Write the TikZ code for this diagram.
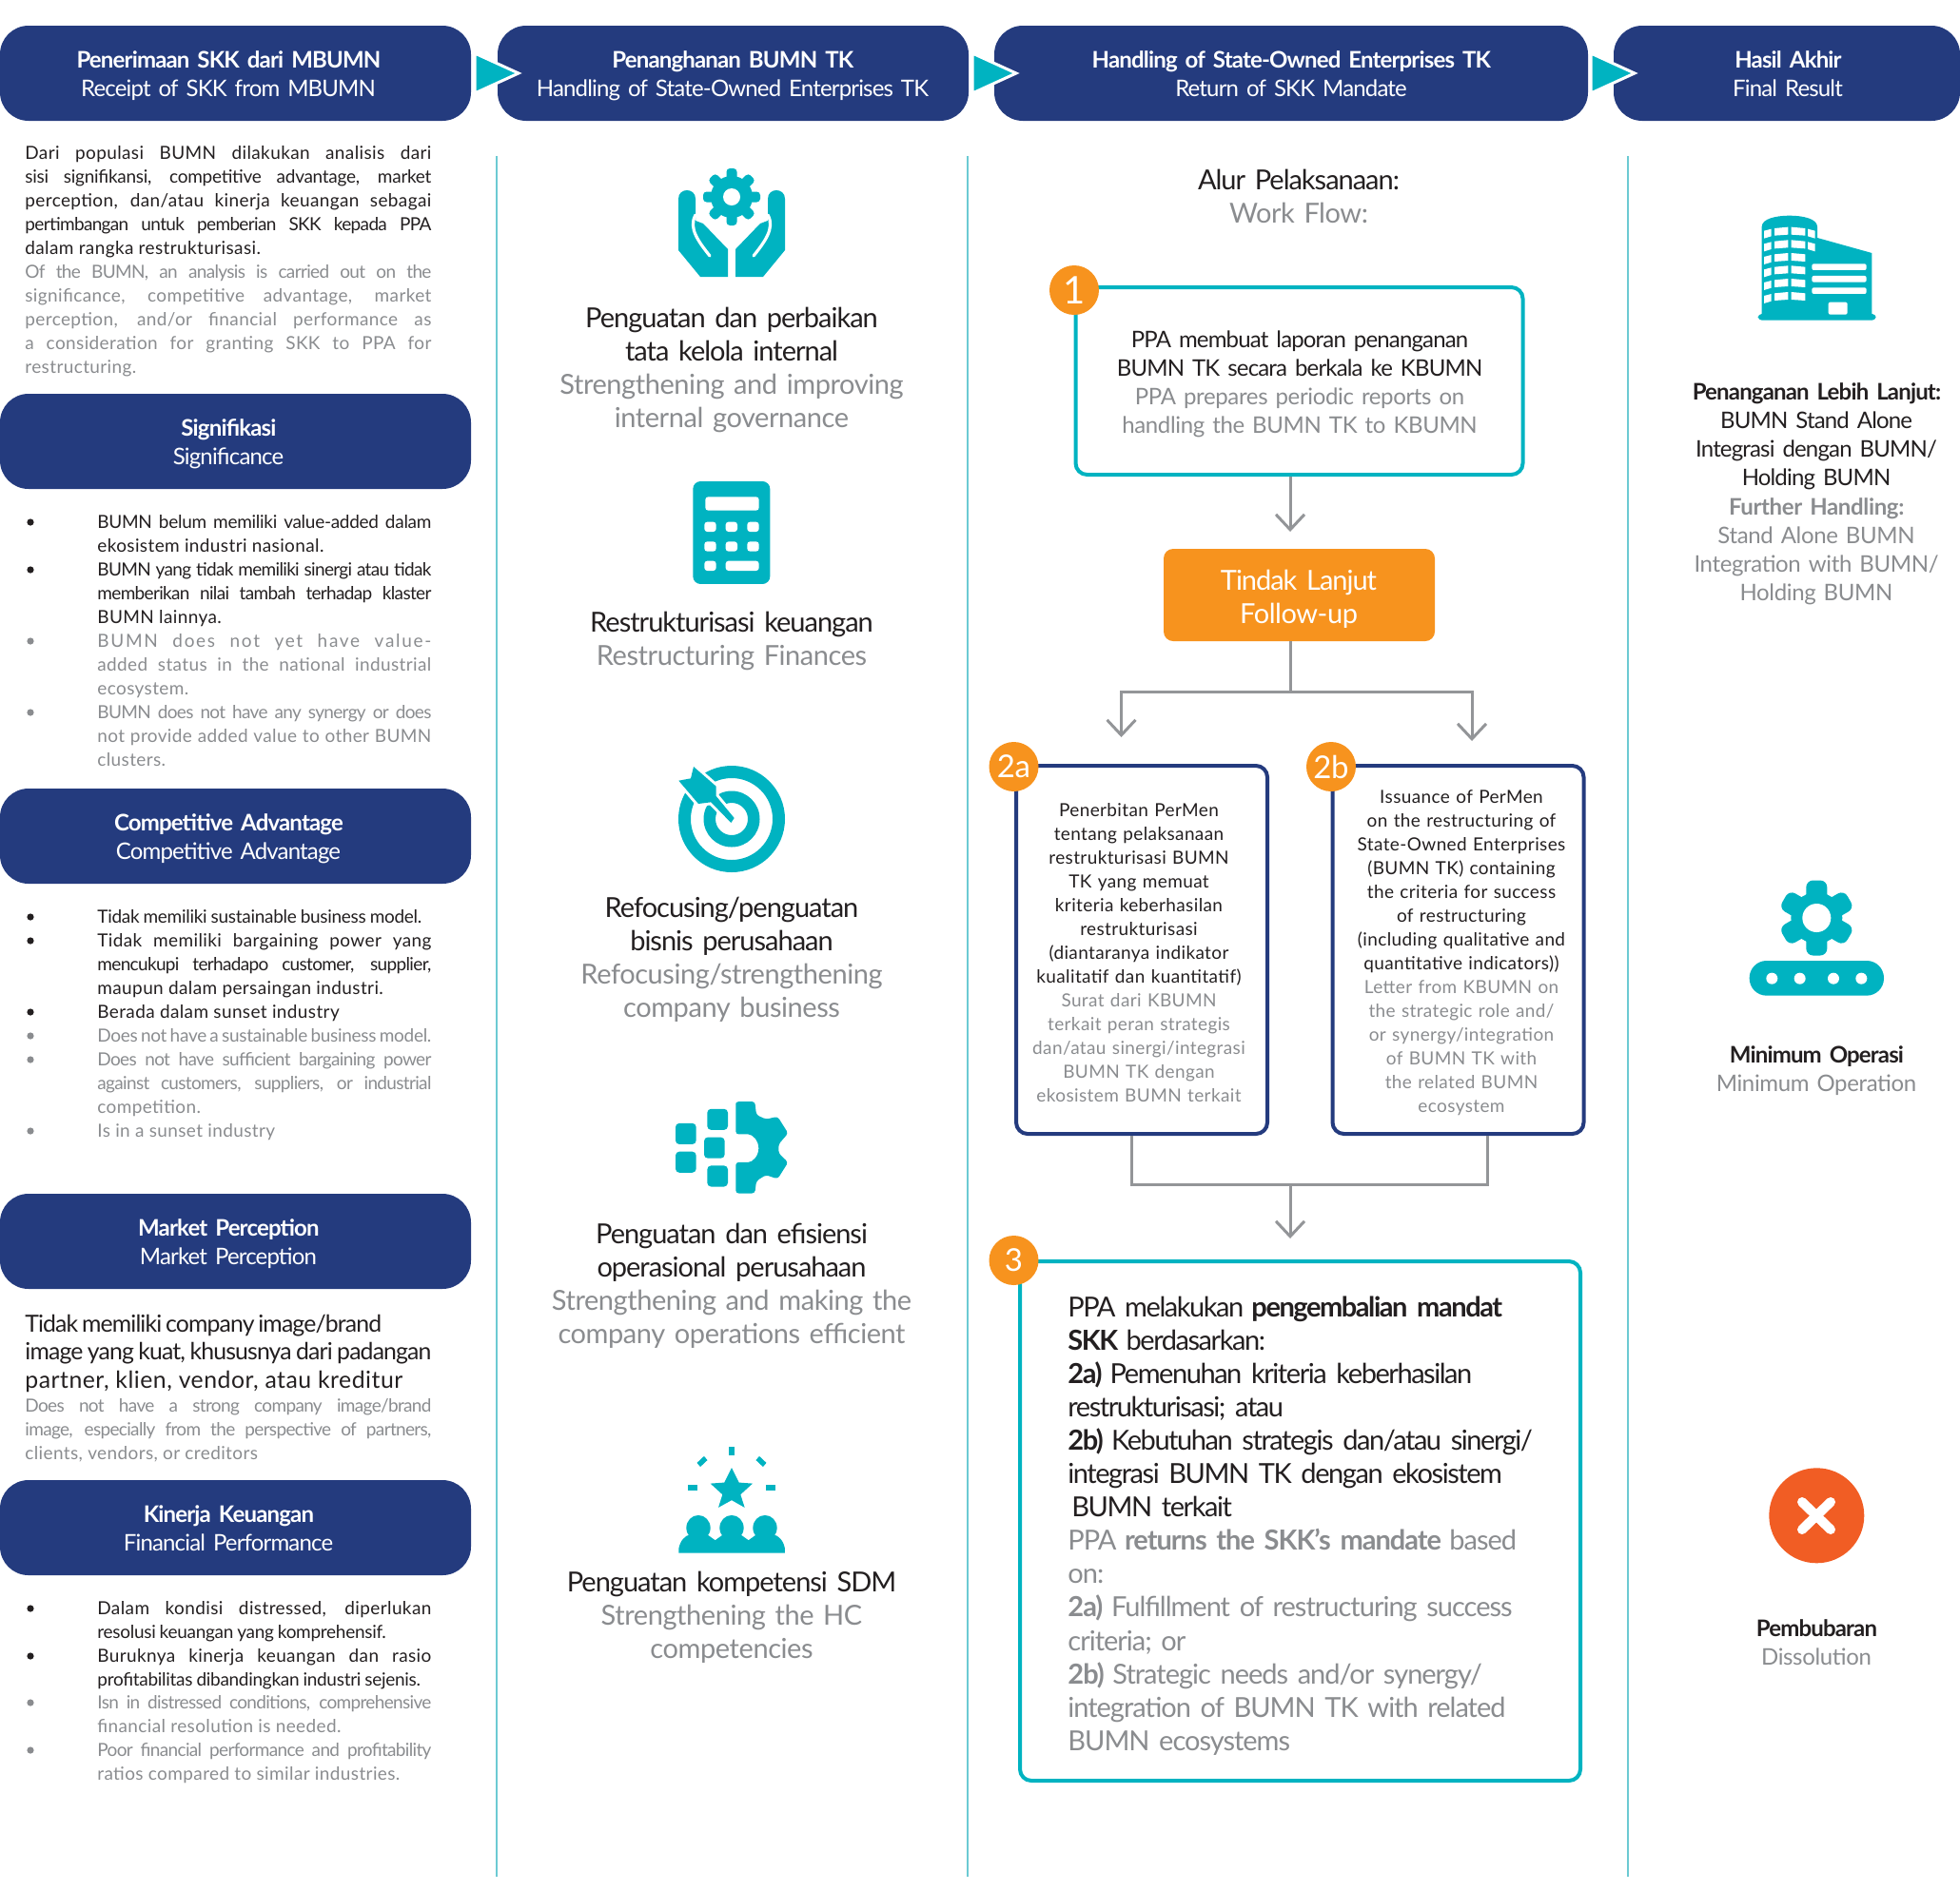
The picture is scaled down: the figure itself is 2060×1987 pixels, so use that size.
\documentclass[tikz,border=0pt]{standalone}
\usepackage{fontspec}
\setmainfont[LetterSpace=-1.5,WordSpace=0.85]{Lato}
\newfontfamily\tight[LetterSpace=-3.5,WordSpace=0.7]{Lato}
\newfontfamily\tighter[LetterSpace=-5,WordSpace=0.7]{Lato}
\newfontfamily\wide[LetterSpace=2]{Lato}
\newfontfamily\wider[LetterSpace=9]{Lato}
\usetikzlibrary{arrows.meta}
\definecolor{navy}{HTML}{243B7E}
\definecolor{teal}{HTML}{00B3C1}
\definecolor{rule}{HTML}{6CCAD3}
\definecolor{amber}{HTML}{F7931E}
\definecolor{redorange}{HTML}{F15D24}
\definecolor{ink}{HTML}{231F20}
\definecolor{mute}{HTML}{8A8C8F}
\definecolor{arrowgrey}{HTML}{939598}
\def\mute{\color{mute}}
\def\grey{\color{mute}\rmfamily}
\tikzset{
	banner/.style={fill=navy, rounded corners=15pt, minimum height=50pt, inner sep=0pt, minimum width=#1*0.5pt},
	bannertext/.style={anchor=base, inner sep=0pt, text=white, text width=240pt, align=center,
		font=\fontsize{12}{15}\selectfont},
	bodytext/.style={anchor=base west, inner sep=0pt, text=ink, text width=213.5pt, align=justify,
		font=\wide\fontsize{9.5}{12.5}\selectfont},
	itemtext/.style={anchor=base west, inner sep=0pt, text=ink, text width=175.5pt, align=justify,
		font=\wide\fontsize{9.5}{12.5}\selectfont},
	itemdot/.style={circle, fill=#1, inner sep=0pt, minimum size=3.6pt},
	midtext/.style={anchor=base, inner sep=0pt, text=ink, text width=210pt, align=center, yshift=-0.6pt,
		font=\tight\fontsize{14.5}{17.55}\selectfont},
	sidetext/.style={anchor=base, inner sep=0pt, text=ink, text width=150pt, align=center, yshift=-0.6pt,
		font=\tight\fontsize{12}{15.1}\selectfont},
	boxtext/.style={anchor=base, inner sep=0pt, text=ink, text width=130pt, align=center,
		font=\wide\fontsize{9.5}{12.5}\selectfont},
	stepbox/.style={draw=#1, line width=2pt, rounded corners=6pt, inner sep=0pt},
	badge/.style={circle, fill=amber, text=white, inner sep=0pt, minimum size=26pt},
	flowline/.style={draw=arrowgrey, line width=1.5pt, -{Straight Barb[length=8pt,width=15pt]}},
	linkline/.style={draw=arrowgrey, line width=1.5pt},
	colrule/.style={draw=rule, line width=1pt},
	chevron/.style={fill=teal, draw=white, line width=1.5pt},
}
% cx, cy, tip radius, body radius, tooth half width, step, hole radius
\def\GearIcon#1#2#3#4#5#6#7{%
	\foreach \a in {0,#6,...,179}
	\fill[teal, rounded corners=#5*0.33pt, rotate around={\a:(#1,#2)}] ({#1-#5},{#2-#3}) rectangle ({#1+#5},{#2+#3});
	\fill[teal] (#1,#2) circle (#4);
	\fill[white] (#1,#2) circle (#7);
}
\def\Banner#1#2#3#4#5#6#7{%
	\node[banner=#4] (#1) at (#2,#3) {};
	\node[bannertext] (#1text) at (#5,#3-6) {\textbf{\tight #6}\\{\tight #7}};
}
\def\Item#1#2#3{%
	\node[itemdot=#2] (dot#1) at (32,#1-5) {};
	\node[itemtext] (item#1) at (102,#1+1) {\color{#2}#3};
}
\def\DartPath{(729,806) -- (752.7,826.7) -- (752.7,837) -- (771.7,860) -- (768.3,865)
	-- (747.3,843.3) -- (734,845) -- (713.3,820.7) -- (726,818.3) -- cycle}
\begin{document}
\begin{tikzpicture}[x=0.5pt,y=-0.5pt]
\useasboundingbox (0,0) rectangle (2060,1987);
% column rules
\foreach \x in {522,1017,1711}
\draw[colrule] (\x,164) -- (\x,1973);

\Banner{recv}{247.5}{77}{495}{240}{Penerimaan SKK dari MBUMN}{Receipt of SKK from MBUMN}
\Banner{hand}{770.5}{77}{495}{770}{Penanghanan BUMN TK}{Handling of State-Owned Enterprises TK}
\Banner{soe}{1357}{77}{624}{1357}{Handling of State-Owned Enterprises TK}{Return of SKK Mandate}
\Banner{final}{1878}{77}{364}{1879}{Hasil Akhir}{Final Result}
\foreach \x in {499,1022,1672}
\filldraw[chevron] (\x,56) -- (\x+46,77) -- (\x,98) -- cycle;

% left column
\node[bodytext] (intro) at (26,167) {Dari populasi BUMN dilakukan analisis dari\linebreak
{\rmfamily sisi signifikansi, competitive advantage, market}\linebreak
perception, dan/atau kinerja keuangan sebagai\linebreak
{\tight pertimbangan untuk pemberian SKK kepada PPA}\linebreak
dalam rangka restrukturisasi.\\
\mute{\tight Of the BUMN, an analysis is carried out on the}\linebreak
significance, competitive advantage, market\linebreak
perception, and/or financial performance as\linebreak
a consideration for granting SKK to PPA for\linebreak
restructuring.};

\Banner{sig}{247.5}{464}{495}{240}{Signifikasi}{Significance}
\Item{554}{ink}{{\rmfamily BUMN belum memiliki value-added dalam}\linebreak ekosistem industri nasional.}
\Item{604}{ink}{{\tight BUMN yang tidak memiliki sinergi atau tidak}\linebreak {\tight memberikan nilai tambah terhadap klaster}\linebreak BUMN lainnya.}
\Item{679}{mute}{{\wider BUMN does not yet have value-}\linebreak added status in the national industrial\linebreak ecosystem.}
\Item{754}{mute}{{\tight BUMN does not have any synergy or does}\linebreak not provide added value to other BUMN\linebreak clusters.}

\Banner{comp}{247.5}{879}{495}{240}{Competitive Advantage}{Competitive Advantage}
\Item{969}{ink}{{\rmfamily Tidak memiliki sustainable business model.}}
\Item{994}{ink}{Tidak memiliki bargaining power yang\linebreak {\tight mencukupi terhadapo customer, supplier,}\linebreak maupun dalam persaingan industri.}
\Item{1069}{ink}{Berada dalam sunset industry}
\Item{1094}{mute}{{\rmfamily Does not have a sustainable business model.}}
\Item{1119}{mute}{{\tight Does not have sufficient bargaining power}\linebreak {\tight against customers, suppliers, or industrial}\linebreak competition.}
\Item{1194}{mute}{Is in a sunset industry}

\Banner{mark}{247.5}{1305}{495}{240}{Market Perception}{Market Perception}
\node[bodytext, font=\rmfamily\fontsize{12.4}{14.8}\selectfont] (marketid) at (26,1400) {{\tight Tidak memiliki company image/brand}\\
{\tight image yang kuat, khususnya dari padangan}\linebreak
{\wide partner, klien, vendor, atau kreditur}};
\node[bodytext, text=mute] (marketen) at (26,1484) {{\tight Does not have a strong company image/brand}\linebreak
{\tight image, especially from the perspective of partners,}\linebreak
clients, vendors, or creditors};

\Banner{perf}{247.5}{1606}{495}{240}{Kinerja Keuangan}{Financial Performance}
\Item{1696}{ink}{Dalam kondisi distressed, diperlukan\linebreak {\rmfamily resolusi keuangan yang komprehensif.}}
\Item{1746}{ink}{Buruknya kinerja keuangan dan rasio\linebreak {\rmfamily profitabilitas dibandingkan industri sejenis.}}
\Item{1795}{mute}{{\tight Isn in distressed conditions, comprehensive}\linebreak financial resolution is needed.}
\Item{1845}{mute}{{\tight Poor financial performance and profitability}\linebreak ratios compared to similar industries.}

% hands and gear
\GearIcon{769}{207}{30}{22}{5.5}{45}{9}
\foreach \s in {1,-1}{
	\begin{scope}[shift={(769,0)}, xscale=\s]
		\fill[teal] (-56,209) .. controls (-56,197) and (-38,197) .. (-38,209) -- (-38,232) -- (-30,235)
			-- (-4,262) -- (-4,291) -- (-33,291) -- (-56,263) -- cycle;
		\draw[white, line width=1.6pt, line cap=round] (-38,226) .. controls (-46,240) and (-34,255) .. (-23,269);
	\end{scope}
}
\node[midtext] (govern) at (769,343) {Penguatan dan perbaikan\\tata kelola internal\\\grey Strengthening and improving\\internal governance};

% calculator
\begin{scope}[shift={(700,490)}, scale=0.3333]
	\fill[teal, rounded corners=4pt] (85,48) rectangle (328,372);
	\fill[white, rounded corners=1.5pt] (124,97) rectangle (293,140);
	\foreach \bx in {121,188,256}
	\foreach \by in {176,238}
	\fill[white, rounded corners=1.5pt] (\bx,\by) rectangle (\bx+37,\by+31);
	\fill[white, rounded corners=1.5pt] (121,299) rectangle (158,330);
	\fill[white, rounded corners=1.5pt] (188,299) rectangle (293,330);
\end{scope}
\node[midtext] (finance) at (769,663) {Restrukturisasi keuangan\\\grey Restructuring Finances};

% target
\fill[teal, even odd rule] (769,861) circle (56) (769,861) circle (43);
\fill[teal, even odd rule] (769,861) circle (29.5) (769,861) circle (17);
\filldraw[white, line width=3pt] \DartPath;
\fill[teal] \DartPath;
\node[midtext] (focus) at (769,963) {Refocusing/penguatan\\bisnis perusahaan\\\grey Refocusing/strengthening\\company business};

% squares and half gear
\begin{scope}[shift={(660,1130)}, xscale=0.3333, yscale=0.3507]
	\foreach \bx/\by in {150/145,150/230,250/102,240/187,250/272}
	\fill[teal, rounded corners=2pt] (\bx,\by) rectangle (\bx+65,\by+63);
	\fill[teal, rounded corners=1.5pt] (340,90) -- (340,80) -- (400,80) -- (405,120) -- (435,133) -- (472,125) -- (505,175) -- (475,208)
		-- (475,235) -- (505,262) -- (472,312) -- (435,300) -- (405,318) -- (400,355) -- (340,355) -- (340,262) -- (370,262)
		arc (90:-90:42) -- (340,178) -- cycle;
\end{scope}
\node[midtext] (effic) at (769,1306) {Penguatan dan efisiensi\\operasional perusahaan\\\grey Strengthening and making the\\company operations efficient};

% star and people
\begin{scope}[shift={(660,1130)}, xscale=0.3333, yscale=0.3507]
	\fill[teal] (317,1115) rectangle (337,1140);
	\fill[teal] (190,1228) rectangle (218,1247);
	\fill[teal] (436,1228) rectangle (464,1247);
	\fill[teal, rotate around={42:(234,1159)}] (219,1151) rectangle (249,1167);
	\fill[teal, rotate around={-42:(420,1159)}] (405,1151) rectangle (435,1167);
	\fill[teal] (327,1178) -- (350,1222) -- (393,1225) -- (355,1258) -- (368,1297) -- (327,1275) -- (285,1297) -- (298,1258) -- (260,1225) -- (304,1222) -- cycle;
	\foreach \hx in {222,327,432}
	\fill[teal] (\hx,1358) circle (38);
	\fill[teal] (160,1433) -- (160,1420) .. controls (165,1395) and (180,1382) .. (195,1378) -- (250,1378) -- (275,1395) -- (300,1378) -- (355,1378)
		-- (380,1395) -- (405,1378) -- (460,1378) .. controls (475,1382) and (490,1395) .. (495,1420) -- (495,1433) -- cycle;
\end{scope}
\node[midtext] (people) at (769,1672) {Penguatan kompetensi SDM\\\grey Strengthening the HC\\competencies};

% work flow
\node[midtext] (flowhead) at (1365,198) {Alur Pelaksanaan:\\\grey Work Flow:};

\node[stepbox=teal, minimum width=235pt, minimum height=98.5pt] (report) at (1365.5,400.5) {};
\node[boxtext, text width=220pt, font=\tight\fontsize{12}{15.1}\selectfont] (reporttext) at (1366,365)
	{PPA membuat laporan penanganan\\BUMN TK secara berkala ke KBUMN\\\grey PPA prepares periodic reports on\\handling the BUMN TK to KBUMN};
\node[badge, font=\fontsize{20}{20}\selectfont] (num1) at (1129,305) {1};

\node[fill=amber, rounded corners=5pt, minimum width=142.5pt, minimum height=48.5pt, inner sep=0pt] (follow) at (1365.5,625.5) {};
\node[boxtext, text=white, font=\fontsize{14.5}{17.6}\selectfont] (followtext) at (1365,620) {{\tight Tindak Lanjut}\\Follow-up};

\node[stepbox=navy, minimum width=132pt, minimum height=193.5pt] (permen) at (1200,998.5) {};
\node[boxtext] (permentext) at (1197,858.5)
	{Penerbitan PerMen\\tentang pelaksanaan\\restrukturisasi BUMN\\TK yang memuat\\kriteria keberhasilan\\restrukturisasi\\(diantaranya indikator\\kualitatif dan kuantitatif)\\\mute
	Surat dari KBUMN\\terkait peran strategis\\dan/atau sinergi/integrasi\\BUMN TK dengan\\ekosistem BUMN terkait};
\node[badge, font=\fontsize{16.5}{16.5}\selectfont] (num2a) at (1065.5,806) {2a};

\node[stepbox=navy, minimum width=132pt, minimum height=193.5pt] (issue) at (1532.5,998.5) {};
\node[boxtext] (issuetext) at (1536,844)
	{Issuance of PerMen\\on the restructuring of\\State-Owned Enterprises\\(BUMN TK) containing\\the criteria for success\\of restructuring\\(including qualitative and\\quantitative indicators))\\\mute
	Letter from KBUMN on\\the strategic role and/\\or synergy/integration\\of BUMN TK with\\the related BUMN\\ecosystem};
\node[badge, font=\fontsize{16.5}{16.5}\selectfont] (num2b) at (1399,806) {2b};

\node[stepbox=teal, minimum width=294.5pt, minimum height=273pt] (returnbox) at (1366.5,1599) {};
\node[boxtext, anchor=base west, text width=262pt, align=left, font=\tighter\fontsize{14.5}{17.55}\selectfont] (returntext) at (1122,1384)
	{PPA melakukan \textbf{pengembalian mandat}\\\textbf{SKK} berdasarkan:\\\textbf{2a)} Pemenuhan kriteria keberhasilan\\restrukturisasi; atau\\\textbf{2b)} Kebutuhan strategis dan/atau sinergi/\\integrasi BUMN TK dengan ekosistem\\\hspace*{2pt}BUMN terkait\\\mute\tight
	PPA \textbf{returns the SKK’s mandate} based\\on:\\\textbf{2a)} Fulfillment of restructuring success\\criteria; or\\\textbf{2b)} Strategic needs and/or synergy/\\integration of BUMN TK with related\\BUMN ecosystems};
\node[badge, font=\fontsize{16.5}{16.5}\selectfont] (num3) at (1065.5,1325) {3};

% connectors
\coordinate (tipone) at (1356,559);
\coordinate (fork) at (1356,727);
\coordinate (tipleft) at (1178.5,775);
\coordinate (tipright) at (1547,779);
\coordinate (merge) at (1356,1245);
\coordinate (tipthree) at (1356,1302);
\coordinate (footleft) at (1189,1245);
\coordinate (footright) at (1563,1245);
\draw[flowline] (report.south -| tipone) -- (tipone);
\draw[linkline] (follow.south -| fork) -- (fork);
\draw[flowline] (fork) -| (tipleft);
\draw[flowline] (fork) -| (tipright);
\draw[linkline] (permen.south -| footleft) -- (footleft) -- (footright) -- (issue.south -| footright);
\draw[flowline] (merge) -- (tipthree);

% right column
\begin{scope}[shift={(1780,200)}, scale=0.3333]
	\fill[teal, rounded corners=2pt] (203,390) rectangle (575,410);
	\fill[teal] (215,395) -- (215,115) .. controls (215,90) and (260,80) .. (302,80) .. controls (345,80) and (390,90) .. (390,115) -- (390,150) -- (562,198) -- (562,395) -- cycle;
	\foreach \r in {0,41,82,122,163,205}{
		\fill[white] (222,128+\r) -- (245,122+\r) -- (245,145+\r) -- (222,152+\r) -- cycle;
		\fill[white] (255,120+\r) -- (298,116+\r) -- (298,140+\r) -- (255,143+\r) -- cycle;
		\fill[white] (308,116+\r) -- (352,120+\r) -- (352,143+\r) -- (308,140+\r) -- cycle;
	}
	\foreach \r in {0,41}
	\fill[white] (360,122+\r) -- (383,128+\r) -- (383,152+\r) -- (360,145+\r) -- cycle;
	\foreach \sy in {232,270,307}
	\fill[white, rounded corners=1pt] (373,\sy) rectangle (545,\sy+20);
	\fill[white, rounded corners=1pt] (425,353) rectangle (485,392);
\end{scope}
\node[sidetext] (further) at (1909,419) {\textbf{Penanganan Lebih Lanjut:}\\BUMN Stand Alone\\Integrasi dengan BUMN/\\Holding BUMN\\\grey\textbf{Further Handling:}\\Stand Alone BUMN\\Integration with BUMN/\\Holding BUMN};

\GearIcon{1909.3}{965}{39.5}{27}{11}{60}{15}
\begin{scope}[shift={(1780,900)}, scale=0.3333]
	\fill[teal, rounded corners=9pt] (176,330) rectangle (600,440);
	\foreach \dx in {247,335,441,529}
	\fill[white] (\dx,386) circle (18);
\end{scope}
\node[sidetext] (minop) at (1909,1116) {\textbf{Minimum Operasi}\\\grey Minimum Operation};

\fill[redorange] (1909.3,1593.3) circle (50);
\draw[white, line width=5pt, line cap=round] (1894,1579) -- (1924,1608);
\draw[white, line width=5pt, line cap=round] (1924,1579) -- (1894,1608);
\node[sidetext] (dissolve) at (1909,1719) {\textbf{Pembubaran}\\\grey Dissolution};
\end{tikzpicture}
\end{document}
